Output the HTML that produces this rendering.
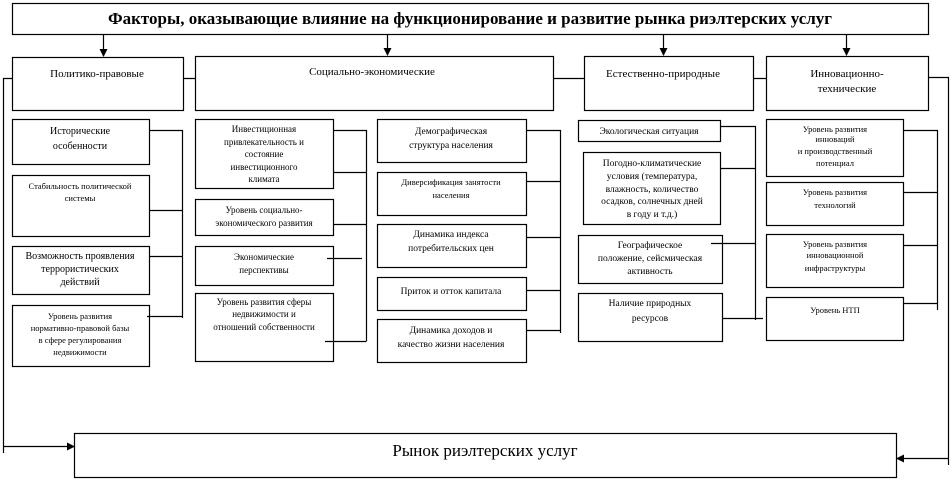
<!DOCTYPE html>
<html><head><meta charset="utf-8"><style>
html,body{margin:0;padding:0;background:#fff;}
svg{display:block;}
text{font-family:"Liberation Serif","Noto Serif CJK SC",serif;fill:#000;}
</style></head><body>
<svg width="952" height="480" viewBox="0 0 952 480" xmlns="http://www.w3.org/2000/svg">
<defs><marker id="a" markerWidth="8" markerHeight="8" refX="7" refY="4" orient="auto" markerUnits="userSpaceOnUse"><path d="M0,0 L8,4 L0,8 z" fill="#000"/></marker></defs>
<g fill="none" stroke="#000" stroke-width="1.2">
<rect x="12.5" y="3.5" width="916" height="31"/>
<rect x="12.5" y="57.5" width="171" height="53"/>
<rect x="195.5" y="56.5" width="358" height="54"/>
<rect x="584.5" y="56.5" width="169" height="54"/>
<rect x="766.5" y="56.5" width="162" height="54"/>
<rect x="74.5" y="433.5" width="822" height="44"/>
<!-- left col -->
<rect x="12.5" y="119.5" width="137" height="45"/>
<rect x="12.5" y="175.5" width="137" height="61"/>
<rect x="12.5" y="246.5" width="137" height="48"/>
<rect x="12.5" y="305.5" width="137" height="61"/>
<!-- social 1 -->
<rect x="195.5" y="119.5" width="138" height="69"/>
<rect x="195.5" y="199.5" width="138" height="36"/>
<rect x="195.5" y="246.5" width="138" height="39"/>
<rect x="195.5" y="293.5" width="138" height="68"/>
<!-- social 2 -->
<rect x="377.5" y="119.5" width="149" height="43"/>
<rect x="377.5" y="172.5" width="149" height="43"/>
<rect x="377.5" y="224.5" width="149" height="43"/>
<rect x="377.5" y="277.5" width="149" height="33"/>
<rect x="377.5" y="319.5" width="149" height="43"/>
<!-- natural -->
<rect x="578.5" y="120.5" width="142" height="21"/>
<rect x="583.5" y="152.5" width="137" height="72"/>
<rect x="578.5" y="235.5" width="144" height="48"/>
<rect x="578.5" y="293.5" width="144" height="48"/>
<!-- innov -->
<rect x="766.5" y="119.5" width="137" height="57"/>
<rect x="766.5" y="182.5" width="137" height="43"/>
<rect x="766.5" y="234.5" width="137" height="53"/>
<rect x="766.5" y="297.5" width="137" height="43"/>
<!-- header connectors -->
<path d="M183.5 78.5H195.5M553.5 78.5H584.5M753.5 78.5H766.5"/>
<path d="M12.5 78.5H3.5V453"/>
<path d="M928.5 77.5H948.5V465"/>
<!-- left col connector -->
<path d="M149.5 130.5H182.5V318M149.5 210.5H182.5M149.5 256.5H182.5M147 316.5H182.5"/>
<!-- social1 -->
<path d="M333.5 130.5H366.5V341M333.5 172.5H366.5M333.5 224.5H366.5M327 258.5H362M325 341.5H366.5"/>
<!-- social2 -->
<path d="M526.5 130.5H560.5V333M526.5 181.5H560.5M526.5 237.5H560.5M526.5 290.5H560.5M526.5 330.5H560.5"/>
<!-- natural -->
<path d="M720.5 126.5H755.5V320M720.5 168.5H755.5M711 243.5H755.5M722.5 318.5H763"/>
<!-- innov -->
<path d="M903.5 130.5H937.5V310M903.5 192.5H937.5M903.5 245.5H937.5M903.5 303.5H937.5"/>
</g>
<g stroke="#000" stroke-width="1.2" fill="none">
<path d="M103.5 35V56" marker-end="url(#a)"/>
<path d="M387.5 35V55" marker-end="url(#a)"/>
<path d="M663.5 35V55" marker-end="url(#a)"/>
<path d="M846.5 35V55" marker-end="url(#a)"/>
<path d="M3.5 446.5H74" marker-end="url(#a)"/>
<path d="M948.5 458.5H897" marker-end="url(#a)"/>
</g>
<text x="470" y="24" font-size="17" font-weight="bold" text-anchor="middle">Факторы, оказывающие влияние на функционирование и развитие рынка риэлтерских услуг</text>
<text x="485" y="456" font-size="17" text-anchor="middle">Рынок риэлтерских услуг</text>
<g font-size="11" text-anchor="middle">
<text x="97" y="77">Политико-правовые</text>
<text x="372" y="75">Социально-экономические</text>
<text x="663" y="77">Естественно-природные</text>
<text x="847" y="77">Инновационно-</text>
<text x="847" y="92">технические</text>
</g>
<g text-anchor="middle">
<g font-size="10">
<text x="80" y="134">Исторические</text><text x="80" y="149">особенности</text>
<text x="80" y="259">Возможность проявления</text><text x="80" y="272">террористических</text><text x="80" y="285">действий</text>
</g>
<g font-size="8.5">
<text x="80" y="189">Стабильность политической</text><text x="80" y="201">системы</text>
<text x="80" y="319">Уровень развития</text><text x="80" y="331">нормативно-правовой базы</text><text x="80" y="343">в сфере регулирования</text><text x="80" y="355">недвижимости</text>
</g>
<g font-size="9">
<text x="264" y="132">Инвестиционная</text><text x="264" y="145">привлекательность и</text><text x="264" y="157">состояние</text><text x="264" y="170">инвестиционного</text><text x="264" y="182">климата</text>
<text x="264" y="213">Уровень социально-</text><text x="264" y="226">экономического развития</text>
<text x="264" y="260">Экономические</text><text x="264" y="273">перспективы</text>
<text x="264" y="305">Уровень развития сферы</text><text x="264" y="317">недвижимости и</text><text x="264" y="330">отношений собственности</text>
</g>
<g font-size="9.5">
<text x="451" y="134">Демографическая</text><text x="451" y="148">структура населения</text>
<text x="451" y="237">Динамика индекса</text><text x="451" y="251">потребительских цен</text>
<text x="451" y="294">Приток и отток капитала</text>
<text x="451" y="333">Динамика доходов и</text><text x="451" y="347">качество жизни населения</text>
</g>
<g font-size="8.5">
<text x="451" y="185">Диверсификация занятости</text><text x="451" y="198">населения</text>
</g>
<g font-size="9.5">
<text x="649" y="134">Экологическая ситуация</text>
<text x="652" y="166">Погодно-климатические</text><text x="652" y="179">условия (температура,</text><text x="652" y="192">влажность, количество</text><text x="652" y="204">осадков, солнечных дней</text><text x="652" y="217">в году и т.д.)</text>
<text x="650" y="248">Географическое</text><text x="650" y="261">положение, сейсмическая</text><text x="650" y="274">активность</text>
<text x="650" y="306">Наличие природных</text><text x="650" y="321">ресурсов</text>
</g>
<g font-size="8.5">
<text x="835" y="132">Уровень развития</text><text x="835" y="142">инноваций</text><text x="835" y="154">и производственный</text><text x="835" y="166">потенциал</text>
<text x="835" y="195">Уровень развития</text><text x="835" y="208">технологий</text>
<text x="835" y="247">Уровень развития</text><text x="835" y="258">инновационной</text><text x="835" y="271">инфраструктуры</text>
<text x="835" y="313">Уровень НТП</text>
</g>
</g>
</svg>
</body></html>
